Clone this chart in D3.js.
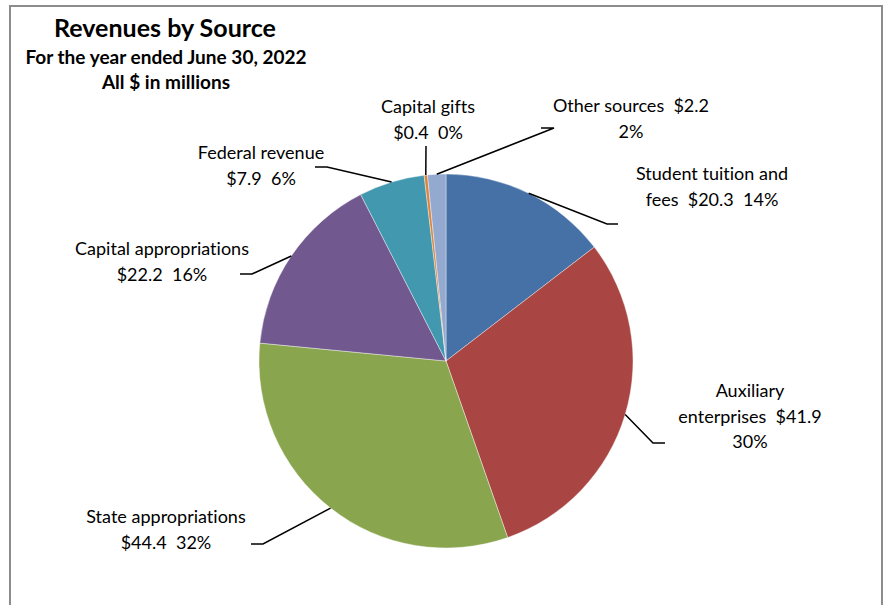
<!DOCTYPE html>
<html>
<head>
<meta charset="utf-8">
<script src="https://cdn.jsdelivr.net/npm/d3@7"></script>
<style>
  body { margin: 0; background: #fff; }
  svg text { font-family: Lato, "Open Sans", sans-serif; fill: #000; white-space: pre;
    font-variant-ligatures: none; font-feature-settings: "liga" 0, "clig" 0, "dlig" 0; letter-spacing: 0.01px; }
</style>
</head>
<body>
<svg id="chart" width="886" height="605"></svg>
<script>
// data
const categories = ["Student tuition and fees", "Auxiliary enterprises", "State appropriations",
  "Capital appropriations", "Federal revenue", "Capital gifts", "Other sources"];
const values = [20.3, 41.9, 44.4, 22.2, 7.9, 0.4, 2.2];
const pctLabels = ["14%", "30%", "32%", "16%", "6%", "0%", "2%"];
const colors = ["#4571A6", "#A94643", "#89A54E", "#71588F", "#4198AF", "#DB843D", "#93A9CF"];

// label layout: text centre, first baseline, leader elbow and end
const labelLayout = [
  { x: 712, y: 180, lines: ["Student tuition and", "fees  {v}  {p}"], elbow: [607, 224], end: [618, 224] },
  { x: 750, y: 397, lines: ["Auxiliary", "enterprises  {v}", "{p}"], elbow: [653, 443], end: [665, 443] },
  { x: 166, y: 523, lines: ["State appropriations", "{v}  {p}"], elbow: [263, 544], end: [251, 544] },
  { x: 162, y: 255, lines: ["Capital appropriations", "{v}  {p}"], elbow: [252, 274], end: [240, 274] },
  { x: 261, y: 159, lines: ["Federal revenue", "{v}  {p}"], elbow: [327, 167], end: [315, 167] },
  { x: 428, y: 113, lines: ["Capital gifts", "{v}  {p}"], elbow: [426, 146], end: [426, 146] },
  { x: 631, y: 112, lines: ["Other sources  {v}", "{p}"], elbow: [554, 128], end: [541, 128] }
];

const svg = d3.select("#chart");
const cx = 446, cy = 361, radius = 187;

// frame
svg.append("rect")
  .attr("x", 10).attr("y", 6).attr("width", 872).attr("height", 640)
  .attr("fill", "none").attr("stroke", "#8c8c8c").attr("stroke-width", 2);

// titles
svg.append("text").attr("x", 165).attr("y", 37).attr("text-anchor", "middle")
  .style("font-size", "25px").style("font-weight", "bold").text("Revenues by Source");
svg.append("text").attr("x", 166).attr("y", 64).attr("text-anchor", "middle")
  .style("font-size", "19px").style("font-weight", "bold").text("For the year ended June 30, 2022");
svg.append("text").attr("x", 166).attr("y", 89).attr("text-anchor", "middle")
  .style("font-size", "19px").style("font-weight", "bold").text("All $ in millions");

const pie = d3.pie().sort(null).value(d => d)(values);
const arc = d3.arc().innerRadius(0).outerRadius(radius);

const g = svg.append("g").attr("transform", `translate(${cx},${cy})`);
g.selectAll("path")
  .data(pie)
  .join("path")
  .attr("d", arc)
  .attr("fill", (d, i) => colors[i])
  .attr("stroke", "#fff")
  .attr("stroke-width", 0.4);

// leader lines
const edge = d3.arc().innerRadius(radius).outerRadius(radius);
svg.selectAll("polyline.leader")
  .data(pie)
  .join("polyline")
  .attr("class", "leader")
  .attr("fill", "none")
  .attr("stroke", "#000")
  .attr("stroke-width", 1.5)
  .attr("points", (d, i) => {
    let c = edge.centroid(d);
    let L = labelLayout[i];
    return [[c[0] + cx, c[1] + cy], L.elbow, L.end].map(p => p.join(",")).join(" ");
  });

// labels
labelLayout.forEach((L, i) => {
  let t = svg.append("text").attr("text-anchor", "middle").style("font-size", "18px");
  L.lines.forEach((ln, k) => {
    t.append("tspan")
      .attr("x", L.x)
      .attr("y", L.y + k * 25.5)
      .text(ln.replace("{v}", "$" + values[i].toFixed(1)).replace("{p}", pctLabels[i]));
  });
});
</script>
</body>
</html>
